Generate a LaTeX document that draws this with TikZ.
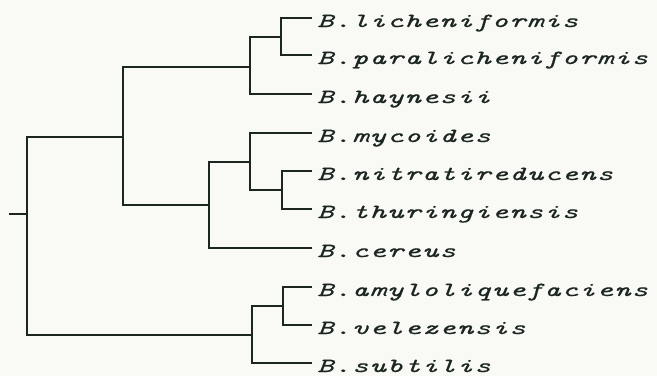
\documentclass[tikz,border=0pt]{standalone}
\usepackage{fontspec}
\newfontfamily\leaffont[FakeStretch=1.55,LetterSpace=6,FakeBold=0.6]{lmmono10-italic.otf}
\definecolor{branchcol}{HTML}{1C2620}
\definecolor{papercol}{HTML}{F9F9F6}
\begin{document}
\begin{tikzpicture}[
      x=1pt, y=-1pt,
      branch/.style={draw=branchcol, line width=1.8pt},
      leaflabel/.style={anchor=base west, inner sep=0pt, xshift=5pt, yshift=-9pt,
        text=branchcol, font=\leaffont\fontsize{20}{22}\selectfont}
    ]
    \fill[papercol] (0,0) rectangle (657,376);
    \useasboundingbox (0,0) rectangle (657,376);

    % leaves
    \foreach \i/\y/\sp in {1/18/licheniformis,2/55/paralicheniformis,3/94/haynesii,
        4/133/mycoides,5/171/nitratireducens,6/209/thuringiensis,7/248/cereus,
        8/287/amyloliquefaciens,9/325/velezensis,10/363/subtilis} {
      \coordinate (L\i) at (312,\y);
      \node[leaflabel] (T\i) at (L\i) {B.\sp};
    }

    % inner nodes
    \coordinate (N1) at (281,37);
    \coordinate (N2) at (250,67);
    \coordinate (N3) at (282,190);
    \coordinate (N4) at (250,162);
    \coordinate (N5) at (209,205);
    \coordinate (N6) at (123,137);
    \coordinate (N7) at (283,306);
    \coordinate (N8) at (252,335);
    \coordinate (R) at (27,214);
    \coordinate (S) at (9,214);

    \foreach \c/\p in {L1/N1,L2/N1,N1/N2,L3/N2,L4/N4,L5/N3,L6/N3,N3/N4,
        N4/N5,L7/N5,N2/N6,N5/N6,L8/N7,L9/N7,N7/N8,L10/N8,N6/R,N8/R} {
      \draw[branch] (\c) -| (\p);
    }
    \draw[branch] (S) -- (R);
  \end{tikzpicture}
\end{document}
